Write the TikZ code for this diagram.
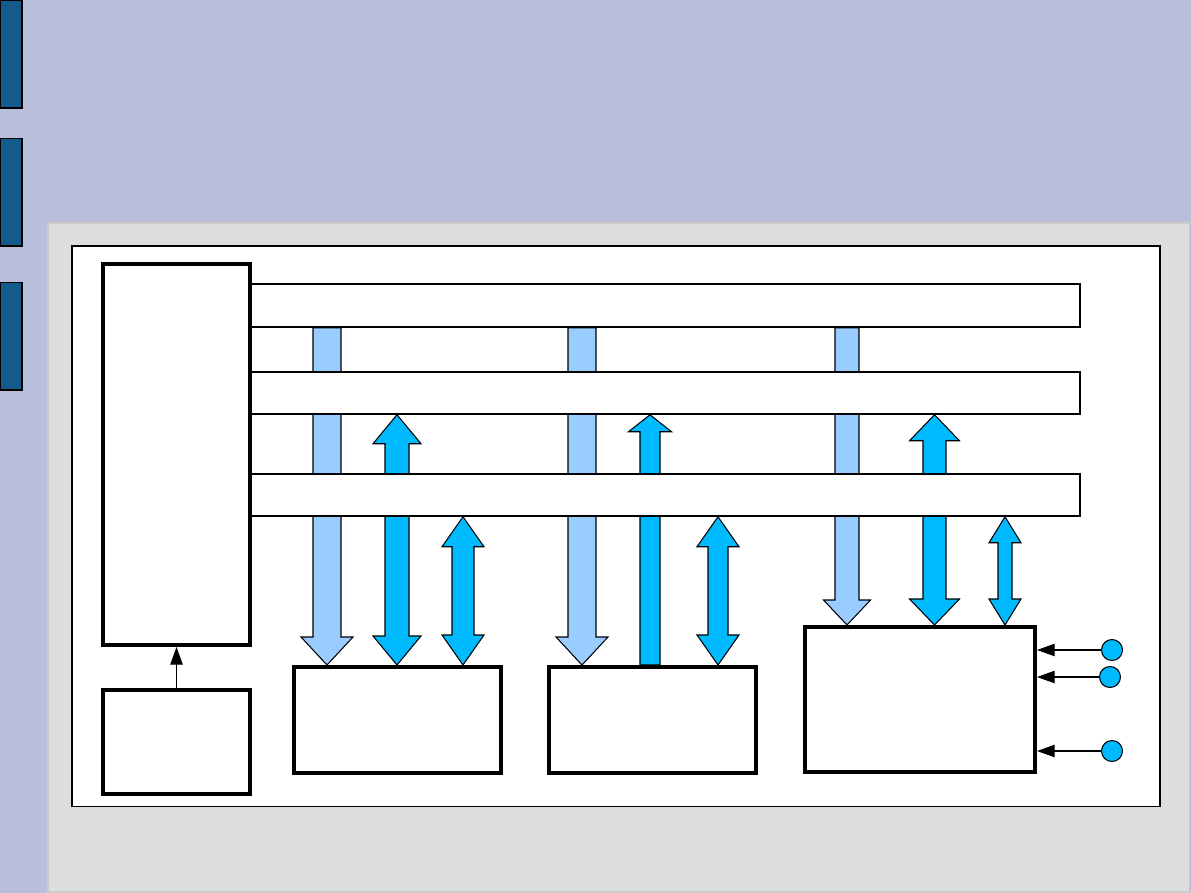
\documentclass[tikz,border=0pt]{standalone}
\usetikzlibrary{calc,arrows.meta}
\definecolor{slidebg}{RGB}{185,190,219}
\definecolor{slidegray}{RGB}{221,221,221}
\definecolor{tabblue}{RGB}{20,90,140}
\definecolor{buslight}{RGB}{153,204,255}
\definecolor{busblue}{RGB}{0,186,255}
\pgfdeclarelayer{bg}
\pgfdeclarelayer{flow}
\pgfsetlayers{bg,flow,main}
% block arrow: style, column, from, to, shaft half, head half, head length
\newcommand{\busarrow}[7]{%
  \coordinate (s) at (#2 |- #3);
  \coordinate (e) at (#2 |- #4);
  \coordinate (h) at ($(e)!#7!(s)$);
  \filldraw[#1] ($(s)+(-#5,0)$) -- ($(h)+(-#5,0)$) -- ($(h)+(-#6,0)$) -- (e)
    -- ($(h)+(#6,0)$) -- ($(h)+(#5,0)$) -- ($(s)+(#5,0)$) -- cycle;
}
\newcommand{\busdouble}[7]{%
  \coordinate (s) at (#2 |- #3);
  \coordinate (e) at (#2 |- #4);
  \coordinate (hs) at ($(s)!#7!(e)$);
  \coordinate (he) at ($(e)!#7!(s)$);
  \filldraw[#1] (s) -- ($(hs)+(#6,0)$) -- ($(hs)+(#5,0)$) -- ($(he)+(#5,0)$)
    -- ($(he)+(#6,0)$) -- (e) -- ($(he)+(-#6,0)$) -- ($(he)+(-#5,0)$)
    -- ($(hs)+(-#5,0)$) -- ($(hs)+(-#6,0)$) -- cycle;
}
\begin{document}
\begin{tikzpicture}[x=0.02cm,y=-0.02cm,
  unit/.style={draw,line width=2.3pt,fill=white,inner sep=0pt},
  bus/.style={draw,line width=0.85pt,fill=white,inner sep=0pt,minimum width=16.6cm},
  light/.style={fill=buslight,draw=black,line width=0.6pt},
  dark/.style={fill=busblue,draw=black,line width=0.6pt},
  sig/.style={-{Triangle[length=10pt,width=7pt]},line width=0.6pt},
  pad/.style={circle,draw,fill=busblue,line width=0.6pt,minimum size=0.42cm,inner sep=0pt}]
\useasboundingbox (0,0) rectangle (1191,893);
\begin{pgfonlayer}{bg}
\fill[slidebg] (0,0) rectangle (1191,893);
\filldraw[fill=slidegray,draw=gray!40,line width=0.6pt] (48,223) rectangle (1189.5,892);
\foreach \y in {0,138,282}
  \filldraw[fill=tabblue,draw=black,line width=0.7pt] (0.5,\y+0.5) rectangle (22,\y+108);
\filldraw[fill=white,draw=black,line width=0.75pt] (72,246) rectangle (1160,806.5);
\end{pgfonlayer}

\foreach \n/\y/\h in {abus/305.5/0.86cm,dbus/393/0.84cm,cbus/495/0.84cm}
  \node[bus,minimum height=\h] (\n) at (665,\y) {};

\node[unit,minimum width=2.94cm,minimum height=7.62cm] (ctrl) at (176.5,454.5) {};
\node[unit,minimum width=2.94cm,minimum height=2.08cm] (clk) at (176.5,742) {};
\node[unit,minimum width=4.14cm,minimum height=2.12cm] (memA) at (397.5,720) {};
\node[unit,minimum width=4.14cm,minimum height=2.12cm] (memB) at (652.5,720) {};
\node[unit,minimum width=4.6cm,minimum height=2.9cm] (io) at (920,699.5) {};

\foreach \n/\x in {a1/327,a2/397,a3/463,b1/582,b2/650,b3/718,c1/847,c2/934.5,c3/1005}
  \coordinate (\n) at (\x,0);

\begin{pgfonlayer}{flow}
\busarrow{light}{a1}{abus.south}{memA.north}{14}{26}{0.56cm}
\busdouble{dark}{a2}{dbus.south}{memA.north}{12}{24}{0.58cm}
\busdouble{dark}{a3}{cbus.south}{memA.north}{11}{21}{0.6cm}
\busarrow{light}{b1}{abus.south}{memB.north}{14}{26}{0.56cm}
\busarrow{dark}{b2}{memB.north}{dbus.south}{10}{21.5}{0.34cm}
\busdouble{dark}{b3}{cbus.south}{memB.north}{10}{21}{0.6cm}
\busarrow{light}{c1}{abus.south}{io.north}{12}{23.5}{0.5cm}
\busdouble{dark}{c2}{dbus.south}{io.north}{11.5}{25}{0.52cm}
\busdouble{dark}{c3}{cbus.south}{io.north}{7}{16}{0.52cm}
\end{pgfonlayer}

\draw[sig] (clk) -- (ctrl);
\foreach \n/\x/\y in {p1/1112/650,p2/1110/677,p3/1112/751} {
  \node[pad] (\n) at (\x,\y) {};
  \draw[sig] (\n) -- (io.east |- \n);
}
\end{tikzpicture}
\end{document}
